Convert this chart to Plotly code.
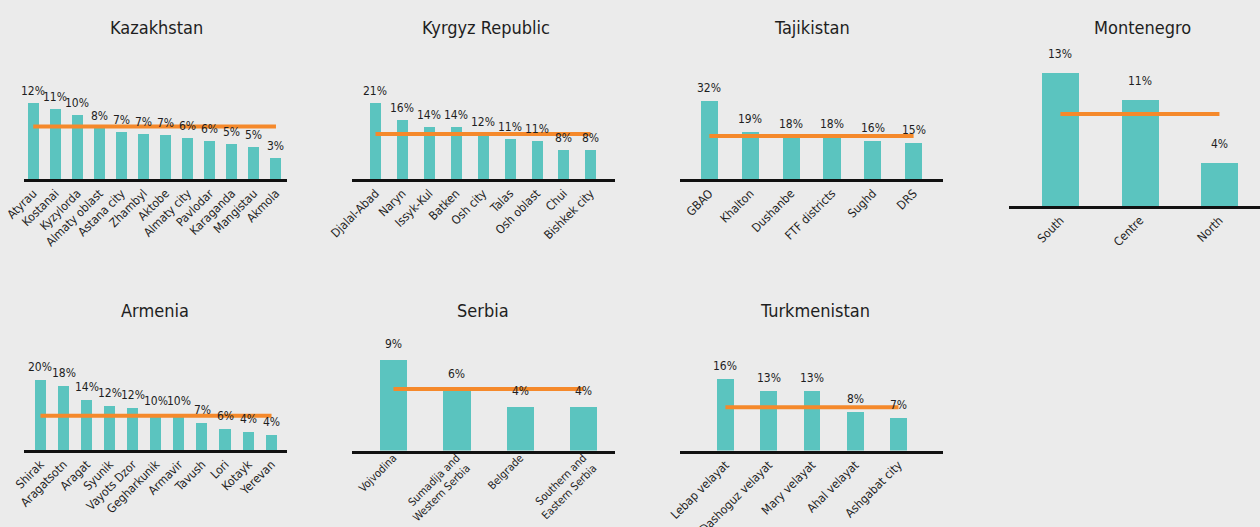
import plotly.graph_objects as go

# ---------------- data ----------------
kaz_regions = ["Atyrau", "Kostanai", "Kyzylorda", "Almaty oblast", "Astana city", "Zhambyl",
               "Aktobe", "Almaty city", "Pavlodar", "Karaganda", "Mangistau", "Akmola"]
kaz_values = [12.0, 11.1, 10.1, 8.1, 7.4, 7.1, 7.0, 6.5, 6.0, 5.5, 5.0, 3.3]
kaz_labels = ["12%", "11%", "10%", "8%", "7%", "7%", "7%", "6%", "6%", "5%", "5%", "3%"]
kaz_avg = 8.3

kgz_regions = ["Djalal-Abad", "Naryn", "Issyk-Kul", "Batken", "Osh city", "Talas",
               "Osh oblast", "Chui", "Bishkek city"]
kgz_values = [21.0, 16.3, 14.4, 14.4, 12.3, 11.0, 10.5, 8.0, 8.0]
kgz_labels = ["21%", "16%", "14%", "14%", "12%", "11%", "11%", "8%", "8%"]
kgz_avg = 12.4

tjk_regions = ["GBAO", "Khalton", "Dushanbe", "FTF districts", "Sughd", "DRS"]
tjk_values = [32.0, 19.3, 17.4, 17.3, 15.6, 14.8]
tjk_labels = ["32%", "19%", "18%", "18%", "16%", "15%"]
tjk_avg = 17.6

mne_regions = ["South", "Centre", "North"]
mne_values = [13.0, 10.4, 4.2]
mne_labels = ["13%", "11%", "4%"]
mne_avg = 9.0

arm_regions = ["Shirak", "Aragatsotn", "Aragat", "Syunik", "Vayots Dzor", "Gegharkunik",
               "Armavir", "Tavush", "Lori", "Kotayk", "Yerevan"]
arm_values = [20.0, 18.3, 14.3, 12.6, 12.0, 10.4, 10.2, 7.7, 6.0, 5.1, 4.3]
arm_labels = ["20%", "18%", "14%", "12%", "12%", "10%", "10%", "7%", "6%", "4%", "4%"]
arm_avg = 9.8

srb_regions = ["Vojvodina", "Sumadija and<br>Western Serbia", "Belgrade", "Southern and<br>Eastern Serbia"]
srb_values = [9.0, 6.0, 4.3, 4.3]
srb_labels = ["9%", "6%", "4%", "4%"]
srb_avg = 6.1

tkm_regions = ["Lebap velayat", "Dashoguz velayat", "Mary velayat", "Ahal velayat", "Ashgabat city"]
tkm_values = [16.0, 13.3, 13.3, 8.6, 7.4]
tkm_labels = ["16%", "13%", "13%", "8%", "7%"]
tkm_avg = 9.7

# ---------------- layout config (pixel geometry) ----------------
W, H = 1260, 527
FONT = "DejaVu Sans Condensed, Liberation Sans Narrow, Roboto, sans-serif"
TEAL = "#5bc4bf"
ORANGE = "#f5892b"
BG = "#ebebeb"
INK = "#1e1e1e"

panels = [
    dict(title="Kazakhstan", cats=kaz_regions, vals=kaz_values, labs=kaz_labels, avg=kaz_avg,
         xpx=(24, 287), xr=(-0.42, 11.5), ybase=179, ytop=50, ymax=20.4, bw=0.5, lab_off=12,
         tpos=(156.7, 28), tick=12, stand=0),
    dict(title="Kyrgyz Republic", cats=kgz_regions, vals=kgz_values, labs=kgz_labels, avg=kgz_avg,
         xpx=(351.7, 615), xr=(-0.885, 8.91), ybase=179, ytop=50, ymax=35.6, bw=0.41, lab_off=12,
         tpos=(485.7, 28), tick=12, stand=0),
    dict(title="Tajikistan", cats=tjk_regions, vals=tjk_values, labs=tjk_labels, avg=tjk_avg,
         xpx=(680, 943), xr=(-0.72, 5.72), ybase=179, ytop=50, ymax=52.9, bw=0.42, lab_off=13,
         tpos=(811.7, 28), tick=12, stand=0),
    dict(title="Montenegro", cats=mne_regions, vals=mne_values, labs=mne_labels, avg=mne_avg,
         xpx=(1008.7, 1260), xr=(-0.65, 2.51), ybase=206, ytop=50, ymax=15.25, bw=0.465, lab_off=19,
         tpos=(1142.7, 28), tick=12, stand=0),
    dict(title="Armenia", cats=arm_regions, vals=arm_values, labs=arm_labels, avg=arm_avg,
         xpx=(24.3, 287), xr=(-0.7, 10.67), ybase=450, ytop=330, ymax=34.3, bw=0.48, lab_off=13,
         tpos=(155, 310), tick=12, stand=0),
    dict(title="Serbia", cats=srb_regions, vals=srb_values, labs=srb_labels, avg=srb_avg,
         xpx=(351.7, 615), xr=(-0.66, 3.5), ybase=450.5, ytop=330, ymax=11.93, bw=0.43, lab_off=16,
         tpos=(483, 310), tick=11, stand=-6),
    dict(title="Turkmenistan", cats=tkm_regions, vals=tkm_values, labs=tkm_labels, avg=tkm_avg,
         xpx=(680, 943), xr=(-1.05, 5.03), ybase=450.5, ytop=330, ymax=27.1, bw=0.39, lab_off=13,
         tpos=(815, 310), tick=12, stand=0),
]

fig = go.Figure()
annotations = []
layout_axes = {}

for i, p in enumerate(panels, start=1):
    xa = "x" if i == 1 else f"x{i}"
    ya = "y" if i == 1 else f"y{i}"
    fig.add_trace(go.Bar(x=p["cats"], y=p["vals"], xaxis=xa, yaxis=ya,
                         marker=dict(color=TEAL, line=dict(width=0)), width=p["bw"],
                         hoverinfo="skip", showlegend=False))
    fig.add_trace(go.Scatter(x=[p["cats"][0], p["cats"][-1]], y=[p["avg"], p["avg"]],
                             xaxis=xa, yaxis=ya, mode="lines",
                             line=dict(color=ORANGE, width=4), hoverinfo="skip",
                             showlegend=False, cliponaxis=False))
    for c, v, t in zip(p["cats"], p["vals"], p["labs"]):
        annotations.append(dict(x=c, y=v, xref=xa, yref=ya, text=t, showarrow=False,
                                yanchor="middle", yshift=p["lab_off"],
                                font=dict(family=FONT, size=12, color=INK)))
    annotations.append(dict(x=p["tpos"][0] / W, y=1 - p["tpos"][1] / H, xref="paper", yref="paper",
                            text=p["title"], showarrow=False, xanchor="center", yanchor="middle",
                            font=dict(family=FONT, size=18, color=INK)))
    key_x = "xaxis" if i == 1 else f"xaxis{i}"
    key_y = "yaxis" if i == 1 else f"yaxis{i}"
    layout_axes[key_x] = dict(domain=[p["xpx"][0] / W, min(1.0, p["xpx"][1] / W)], anchor=ya,
                              range=list(p["xr"]), type="category", showgrid=False, zeroline=False,
                              showline=True, linecolor="#111111", linewidth=2.5, ticks="",
                              tickangle=-45, tickfont=dict(family=FONT, size=p["tick"], color=INK),
                              ticklabelstandoff=p["stand"],
                              automargin=False, fixedrange=True)
    layout_axes[key_y] = dict(domain=[1 - p["ybase"] / H, 1 - p["ytop"] / H], anchor=xa,
                              range=[0, p["ymax"]], visible=False, showgrid=False, zeroline=False,
                              automargin=False, fixedrange=True)

fig.update_layout(width=W, height=H, margin=dict(l=0, r=0, t=0, b=0, autoexpand=False),
                  paper_bgcolor=BG, plot_bgcolor=BG, annotations=annotations,
                  bargap=0, **layout_axes)

fig.write_html("out.html", config={"displayModeBar": False},
               post_script="document.body.style.margin='0';document.body.style.overflow='hidden';")
